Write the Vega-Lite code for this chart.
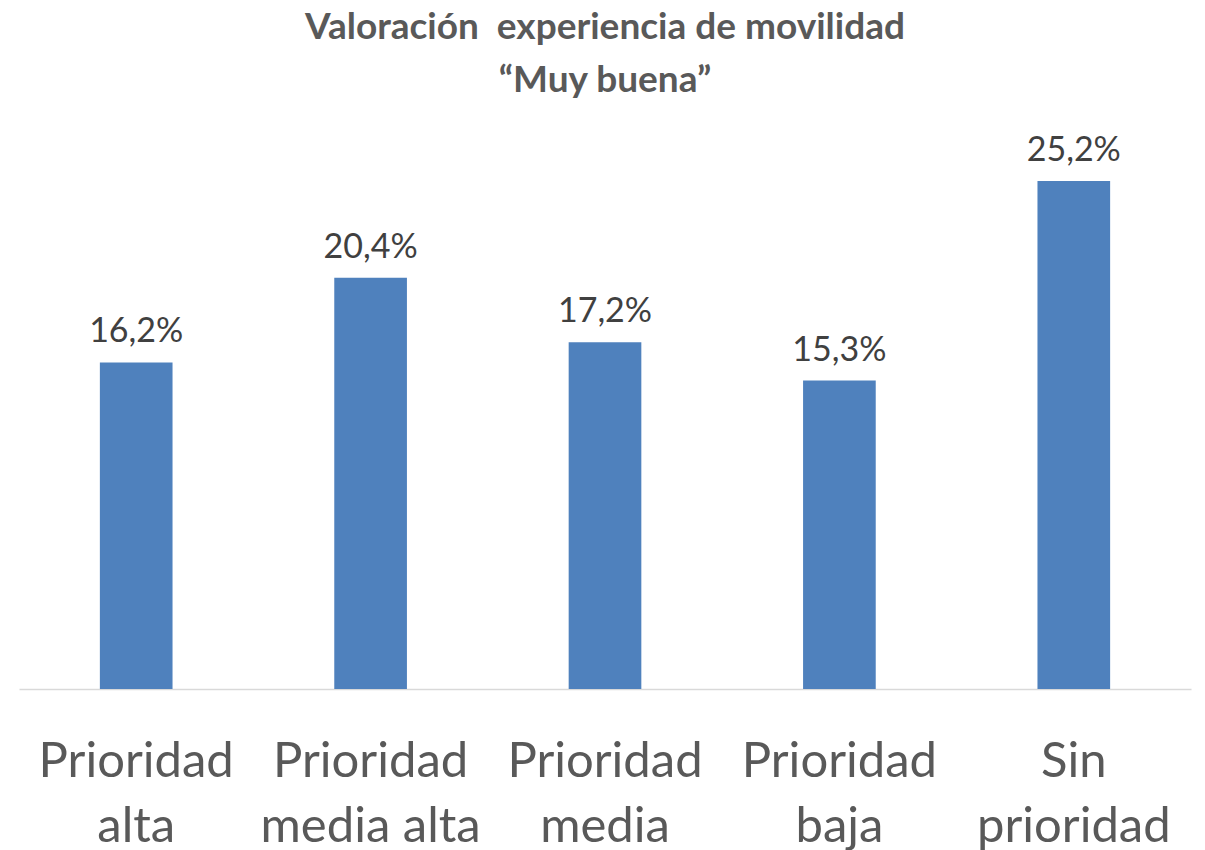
{
  "$schema": "https://vega.github.io/schema/vega-lite/v6.json",
  "width": 1172,
  "height": 564.5,
  "autosize": {"type": "none"},
  "padding": {"left": 19, "top": 124.5, "right": 14, "bottom": 161},
  "background": "white",
  "config": {
    "view": {"stroke": null},
    "locale": {"number": {"decimal": ",", "thousands": ".", "grouping": [3], "currency": ["", " €"]}},
    "font": "Lato"
  },
  "title": {
    "text": ["Valoración\u00a0 experiencia de movilidad", "“Muy buena”"],
    "font": "Lato",
    "fontSize": 37,
    "fontWeight": "bold",
    "color": "#595959",
    "lineHeight": 53,
    "anchor": "middle",
    "offset": 25
  },
  "data": {
    "values": [
      {"cat": "Prioridad|alta", "v": 0.162},
      {"cat": "Prioridad|media alta", "v": 0.204},
      {"cat": "Prioridad|media", "v": 0.172},
      {"cat": "Prioridad|baja", "v": 0.153},
      {"cat": "Sin|prioridad", "v": 0.252}
    ]
  },
  "encoding": {
    "x": {
      "field": "cat",
      "type": "nominal",
      "sort": null,
      "scale": {"paddingInner": 0.69, "paddingOuter": 0.345},
      "axis": {
        "title": null,
        "labelAngle": 0,
        "labelExpr": "split(datum.value, '|')",
        "labelFont": "Lato",
        "labelFontSize": 49,
        "labelColor": "#595959",
        "labelLineHeight": 65,
        "labelBaseline": "alphabetic",
        "labelPadding": 87,
        "labelLimit": 0,
        "labelOverlap": false,
        "ticks": false,
        "domainColor": "#d9d9d9",
        "domainWidth": 1.5
      }
    },
    "y": {
      "field": "v",
      "type": "quantitative",
      "scale": {"domain": [0, 0.28], "nice": false},
      "axis": null
    }
  },
  "layer": [
    {"mark": {"type": "bar", "color": "#4f81bd"}},
    {
      "mark": {"type": "text", "baseline": "alphabetic", "dy": -20, "font": "Lato", "fontSize": 34, "color": "#404040"},
      "encoding": {"text": {"field": "v", "type": "quantitative", "format": ".1%"}}
    }
  ]
}
